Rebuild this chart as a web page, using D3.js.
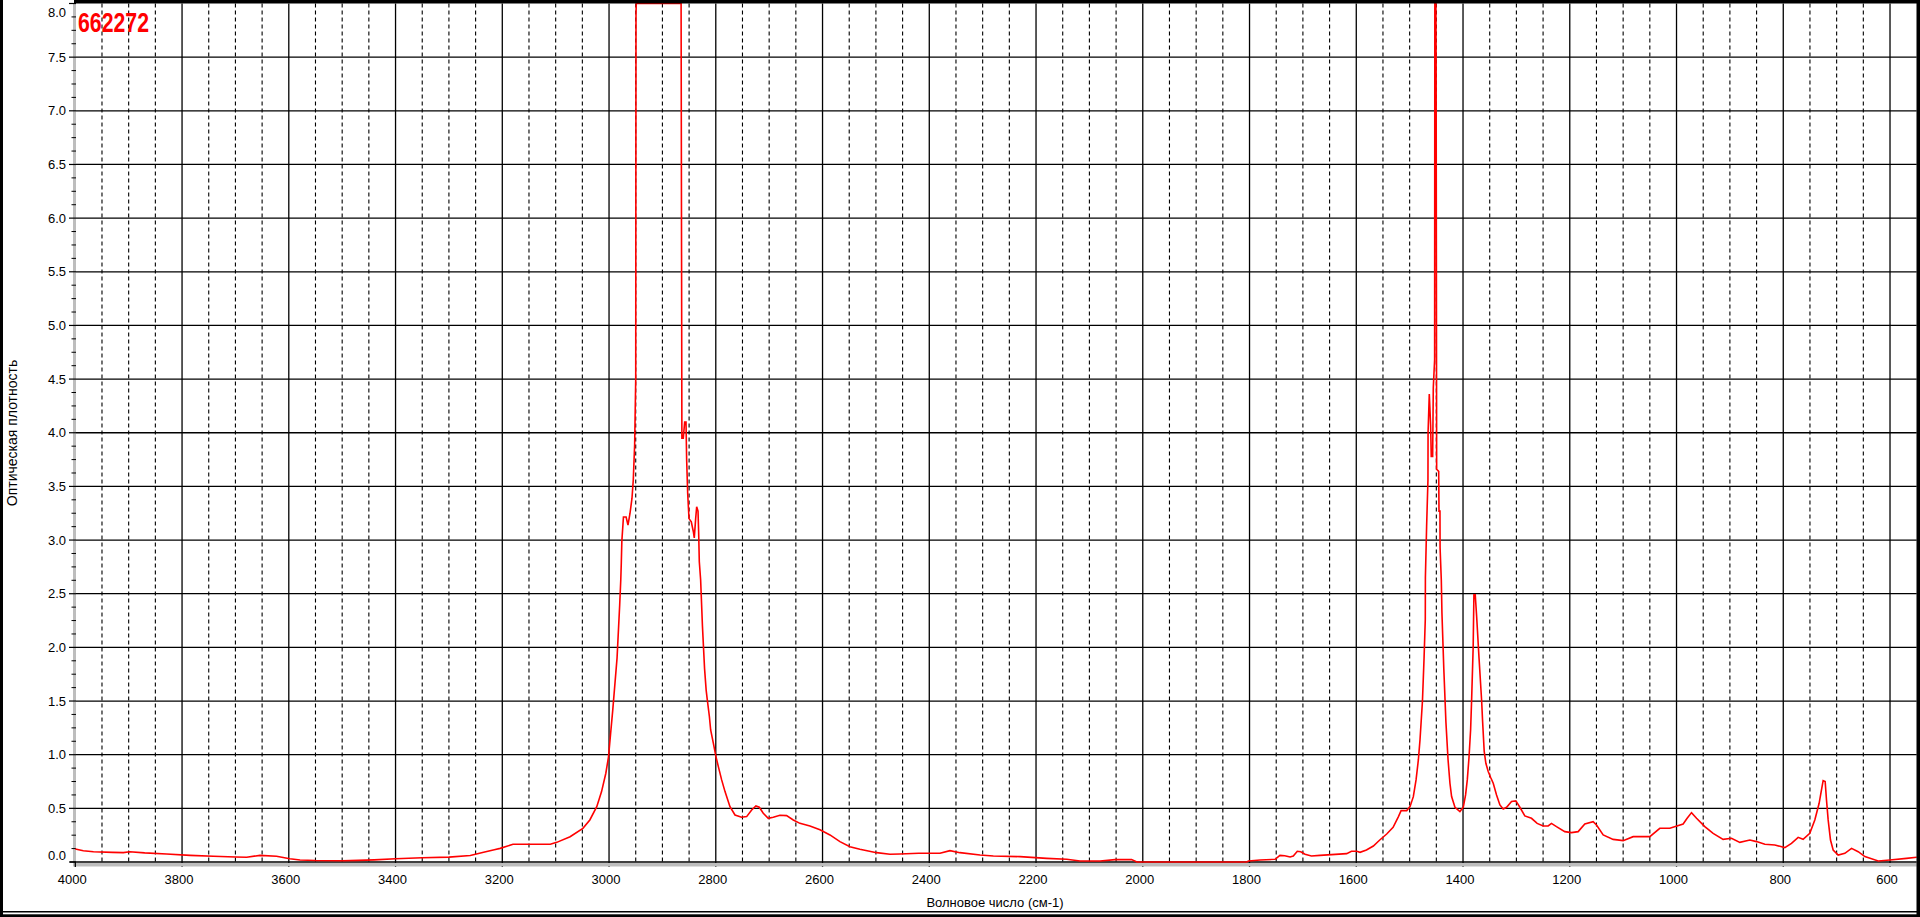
<!DOCTYPE html>
<html>
<head>
<meta charset="utf-8">
<script src="https://cdn.jsdelivr.net/npm/d3@7"></script>
<style>
  html, body { margin: 0; padding: 0; background: #fff; }
  svg { display: block; }
  text { font-family: "Liberation Sans", Arial, sans-serif; }
</style>
</head>
<body>
<svg id="chart" width="1920" height="917"></svg>
<script>
// ---- Data ----
const sampleId = "662272";
const xTitle = "Волновое число (см-1)";
const yTitle = "Оптическая плотность";

const wavenumbers = [
  4000, 3985, 3966, 3930, 3910, 3898, 3870, 3829, 3785, 3741, 3700, 3679, 3654, 3623, 3598, 3579,
  3550, 3500, 3470, 3440, 3400, 3350, 3300, 3260, 3235, 3215, 3204, 3180, 3110, 3098, 3073, 3049,
  3036, 3023, 3014, 3006, 3001, 2997, 2993, 2985, 2980, 2978, 2977, 2976, 2973, 2968, 2964.5, 2960.7,
  2957, 2954.6, 2952, 2950, 2949.5, 2949, 2865, 2863.5, 2860.9, 2858.3, 2855.8, 2854.6, 2852.7, 2850.2,
  2845.9, 2842.1, 2840.3, 2837.7, 2835.8, 2833.3, 2832.1, 2830.9, 2828.4, 2825, 2821, 2818, 2815.9, 2812,
  2809.6, 2804.6, 2799.6, 2795.2, 2789, 2782.7, 2773.4, 2764, 2751.6, 2742.2, 2732.8, 2724.8, 2718.5, 2711,
  2701.7, 2692.3, 2679.8, 2667.3, 2654.8, 2642.3, 2623.6, 2604.8, 2586.1, 2567.4, 2548.7, 2530, 2498.7, 2473.7,
  2455, 2420, 2380, 2361.3, 2342.6, 2305, 2280, 2230, 2180, 2142.5, 2117.6, 2080, 2052, 2021, 2011, 1805,
  1802, 1780, 1752, 1743, 1734, 1724, 1718, 1710.5, 1704, 1696, 1684, 1668, 1618, 1609, 1599, 1593,
  1581, 1568, 1556, 1543, 1531, 1521, 1516, 1505.5, 1499.3, 1493.1, 1488, 1483.7, 1480.6, 1476, 1473, 1470.7,
  1470.5, 1468.2, 1465.7, 1465.5, 1463.2, 1460.7, 1459.5, 1456.9, 1455.7, 1453.2, 1452.8, 1450.8, 1450.4, 1449.4, 1445.6, 1445,
  1443.2, 1443, 1440.7, 1439.5, 1436, 1432, 1428, 1424.5, 1421.4, 1415.1, 1405.8, 1399.5, 1395.2, 1392, 1388.9, 1385.8,
  1383.9, 1381, 1379.6, 1377.1, 1374.5, 1370, 1365.2, 1363.3, 1360.3, 1357.2, 1352.8, 1348.4, 1343.4, 1337.2, 1330.9, 1324.7,
  1318.4, 1309.1, 1301, 1293.5, 1284.2, 1271.7, 1261.1, 1249.9, 1240.5, 1234.3, 1224.9, 1209.3, 1196.8, 1184.3, 1171.8, 1156.2,
  1149.9, 1137.4, 1118.7, 1100, 1081.2, 1050, 1031.3, 1012.5, 987.6, 980.1, 971.9, 962.5, 947, 931.4, 912.7, 897,
  881.4, 862.6, 850.1, 834.5, 815.8, 797.1, 784.6, 772.1, 762.8, 750.3, 740.9, 732.8, 728.4, 725.3, 721.5, 719,
  715.9, 711.5, 706.5, 697.1, 684.6, 672.1, 659.6, 647.1, 622.1, 600.3, 569.1, 550
];
const absorbance = [
  0.121, 0.105, 0.096, 0.09, 0.087, 0.096, 0.085, 0.075, 0.062, 0.053, 0.047, 0.044, 0.062, 0.053, 0.031, 0.019,
  0.014, 0.012, 0.015, 0.02, 0.03, 0.04, 0.045, 0.06, 0.09, 0.115, 0.127, 0.165, 0.165, 0.183, 0.236, 0.314,
  0.392, 0.516, 0.656, 0.827, 0.98, 1.2, 1.418, 1.9, 2.4, 2.63, 2.79, 2.99, 3.215, 3.215, 3.14, 3.25,
  3.39, 3.56, 3.89, 4.5, 7.9, 8.0, 8.0, 3.95, 3.95, 4.1, 4.1, 3.75, 3.44, 3.2,
  3.17, 3.08, 3.02, 3.2, 3.31, 3.27, 3.07, 2.8, 2.63, 2.2, 1.8, 1.6, 1.51, 1.356,
  1.23, 1.107, 0.98, 0.889, 0.765, 0.656, 0.516, 0.438, 0.417, 0.423, 0.485, 0.522, 0.51, 0.454,
  0.407, 0.417, 0.435, 0.432, 0.392, 0.36, 0.336, 0.3, 0.252, 0.19, 0.143, 0.118, 0.087, 0.072,
  0.075, 0.081, 0.081, 0.106, 0.087, 0.065, 0.056, 0.05, 0.034, 0.025, 0.009, 0.009, 0.022, 0.022, 0.0, 0.0,
  0.009, 0.019, 0.025, 0.062, 0.059, 0.047, 0.056, 0.1, 0.096, 0.072, 0.056, 0.062, 0.078, 0.1, 0.1, 0.09,
  0.112, 0.149, 0.205, 0.261, 0.323, 0.423, 0.479, 0.479, 0.516, 0.609, 0.765, 0.951, 1.138, 1.5, 1.9, 2.26,
  2.65, 3.13, 3.56, 4.0, 4.36, 4.07, 3.78, 3.78, 4.42, 4.68, 8.0, 8.0, 7.45, 3.66, 3.64, 3.27,
  3.27, 2.93, 2.63, 2.32, 1.8, 1.3, 0.95, 0.734, 0.61, 0.51, 0.47, 0.51, 0.625, 0.765, 0.967, 1.23,
  1.51, 2.0, 2.49, 2.49, 2.29, 1.9, 1.51, 1.31, 1.03, 0.92, 0.843, 0.79, 0.734, 0.625, 0.532, 0.494,
  0.51, 0.563, 0.569, 0.51, 0.429, 0.407, 0.36, 0.336, 0.336, 0.36, 0.33, 0.283, 0.274, 0.283, 0.354, 0.376,
  0.345, 0.252, 0.211, 0.199, 0.236, 0.236, 0.314, 0.314, 0.354, 0.407, 0.46, 0.407, 0.33, 0.267, 0.211, 0.221,
  0.183, 0.205, 0.19, 0.165, 0.159, 0.134, 0.174, 0.23, 0.211, 0.267, 0.392, 0.547, 0.672, 0.759, 0.75, 0.578,
  0.392, 0.205, 0.112, 0.065, 0.081, 0.127, 0.096, 0.05, 0.009, 0.019, 0.034, 0.044
];

const xTickLabels = [4000, 3800, 3600, 3400, 3200, 3000, 2800, 2600, 2400, 2200, 2000, 1800, 1600, 1400, 1200, 1000, 800, 600];
const yTickLabels = ["0.0", "0.5", "1.0", "1.5", "2.0", "2.5", "3.0", "3.5", "4.0", "4.5", "5.0", "5.5", "6.0", "6.5", "7.0", "7.5", "8.0"];
const xDomain = [4000, 550];
const yDomain = [0, 8];

// ---- Layout ----
const W = 1920, H = 917;
const plot = { left: 75.3, right: 1916.7, top: 3.5, bottom: 862 };

const svg = d3.select("#chart");
const x = d3.scaleLinear().domain(xDomain).range([plot.left, plot.right]);
const y = d3.scaleLinear().domain(yDomain).range([plot.bottom, plot.top]);

svg.append("rect").attr("width", W).attr("height", H).attr("fill", "#ffffff");

// Minor x positions every 50, major every 200
const xMinor = d3.range(3950, 550, -50).filter(v => v % 200 !== 0);
const xMajor = xTickLabels.filter(v => v !== 4000);
const yMajor = yTickLabels.map(Number);
const yMinor = d3.range(0, 8.0001, 0.125).filter(v => Math.abs(v * 2 - Math.round(v * 2)) > 1e-6);

const grid = svg.append("g");
grid.selectAll("line.xminor").data(xMinor).join("line").attr("class", "xminor")
  .attr("x1", d => x(d)).attr("x2", d => x(d))
  .attr("y1", plot.top).attr("y2", plot.bottom + 4)
  .attr("stroke", "#000").attr("stroke-width", 1.1).attr("stroke-dasharray", "4,3");
grid.selectAll("line.xmajor").data(xMajor).join("line").attr("class", "xmajor")
  .attr("x1", d => x(d)).attr("x2", d => x(d))
  .attr("y1", plot.top).attr("y2", plot.bottom + 5)
  .attr("stroke", "#000").attr("stroke-width", 1.3);
grid.selectAll("line.ymajor").data(yMajor.filter(v => v > 0 && v < 8)).join("line").attr("class", "ymajor")
  .attr("x1", plot.left).attr("x2", plot.right)
  .attr("y1", d => y(d)).attr("y2", d => y(d))
  .attr("stroke", "#000").attr("stroke-width", 1.3);

// Axis shadow bands
svg.append("rect").attr("x", 73).attr("y", plot.top).attr("width", 3).attr("height", plot.bottom + 4 - plot.top).attr("fill", "#bdbdbd");
svg.append("rect").attr("x", 73).attr("y", plot.bottom + 1).attr("width", plot.right - 73).attr("height", 3.5).attr("fill", "#bdbdbd");
// bottom axis line
svg.append("line").attr("x1", 70).attr("x2", plot.right).attr("y1", plot.bottom).attr("y2", plot.bottom)
  .attr("stroke", "#000").attr("stroke-width", 1.3);

// y ticks
svg.selectAll("line.ytick").data(yMajor).join("line").attr("class", "ytick")
  .attr("x1", 69).attr("x2", 76).attr("y1", d => y(d)).attr("y2", d => y(d))
  .attr("stroke", "#000").attr("stroke-width", 1.2);
svg.selectAll("line.ytickm").data(yMinor).join("line").attr("class", "ytickm")
  .attr("x1", 71.5).attr("x2", 76).attr("y1", d => y(d)).attr("y2", d => y(d))
  .attr("stroke", "#000").attr("stroke-width", 1);
// x tick at 4000
svg.append("line").attr("x1", x(4000)).attr("x2", x(4000)).attr("y1", plot.bottom).attr("y2", plot.bottom + 5)
  .attr("stroke", "#000").attr("stroke-width", 1.3);

// y labels
svg.selectAll("text.ylab").data(yTickLabels).join("text").attr("class", "ylab")
  .attr("x", 66)
  .attr("y", d => Math.max(12, Math.min(855, y(+d))))
  .attr("dy", "0.36em")
  .attr("text-anchor", "end")
  .attr("font-size", 13)
  .attr("fill", "#000")
  .text(d => d);

// x labels
svg.selectAll("text.xlab").data(xTickLabels).join("text").attr("class", "xlab")
  .attr("x", d => x(d) - 3)
  .attr("y", 884)
  .attr("text-anchor", "middle")
  .attr("font-size", 13)
  .attr("fill", "#000")
  .text(d => d);

// axis titles
svg.append("text").attr("x", 995).attr("y", 907).attr("text-anchor", "middle")
  .attr("font-size", 13).attr("fill", "#000").text(xTitle);
svg.append("text").attr("transform", "translate(16.5,433) rotate(-90)").attr("text-anchor", "middle")
  .attr("font-size", 14).attr("fill", "#000").text(yTitle);

// spectrum
const line = d3.line().x((d, i) => x(wavenumbers[i])).y(d => y(d)).curve(d3.curveLinear);
svg.append("path").datum(absorbance).attr("d", line)
  .attr("fill", "none").attr("stroke", "#ff0000").attr("stroke-width", 1.6).attr("stroke-linejoin", "miter");

// sample id
svg.append("text").attr("x", 78).attr("y", 31.5)
  .attr("font-size", 28).attr("font-weight", "bold").attr("fill", "#ff0000")
  .attr("textLength", 71).attr("lengthAdjust", "spacingAndGlyphs")
  .text(sampleId);

// frame
svg.append("rect").attr("x", 74).attr("y", 0).attr("width", W - 74).attr("height", 3.5).attr("fill", "#000");
svg.append("rect").attr("x", 0).attr("y", 0).attr("width", 3).attr("height", H).attr("fill", "#000");
svg.append("rect").attr("x", 1916.5).attr("y", 0).attr("width", 3.5).attr("height", H).attr("fill", "#000");
svg.append("rect").attr("x", 0).attr("y", 911).attr("width", W).attr("height", 1.5).attr("fill", "#000");
svg.append("rect").attr("x", 0).attr("y", 914.3).attr("width", W).attr("height", 2.7).attr("fill", "#000");
</script>
</body>
</html>
